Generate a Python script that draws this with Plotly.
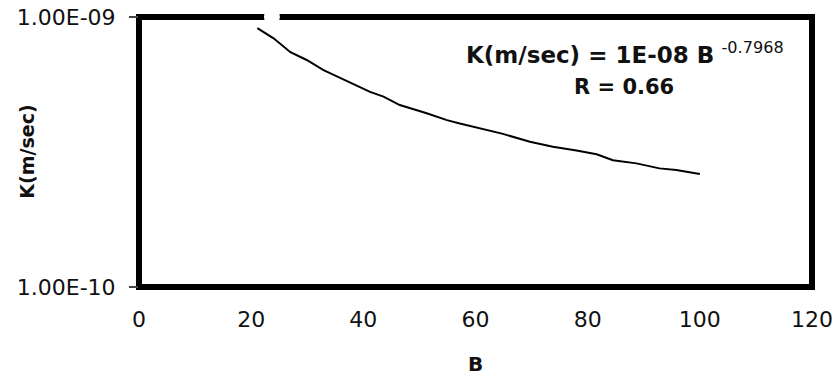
import plotly.graph_objects as go

# Power-law fit of hydraulic conductivity K against B
B_values = [21.1, 24.0, 27.0, 29.9, 32.9, 35.9, 38.8, 41.2, 43.6, 46.5, 51.3, 54.9,
            57.2, 60.8, 64.9, 69.7, 73.8, 78.0, 81.6, 84.5, 88.7, 92.8, 95.8, 100.0]
K_values = [9.10e-10, 8.34e-10, 7.41e-10, 6.93e-10, 6.36e-10, 5.96e-10, 5.60e-10,
            5.28e-10, 5.07e-10, 4.72e-10, 4.40e-10, 4.15e-10, 4.03e-10, 3.87e-10,
            3.69e-10, 3.45e-10, 3.31e-10, 3.20e-10, 3.10e-10, 2.95e-10, 2.87e-10,
            2.75e-10, 2.71e-10, 2.62e-10]

# Single hollow point sitting on the upper bound
point_B = [23.7]
point_K = [1.0e-9]

x_ticks = [0, 20, 40, 60, 80, 100, 120]
y_ticks = [1e-10, 1e-9]
y_tick_text = ["1.00E-10", "1.00E-09"]

fit_label = "<b>K(m/sec) = 1E-08 B</b> <sup>-0.7968</sup>"
r_label = "<b>R = 0.66</b>"

FONT = "DejaVu Sans"
TEXT = "#111111"

fig = go.Figure()
fig.add_trace(go.Scatter(
    x=B_values, y=K_values, mode="lines",
    line=dict(color="black", width=2), hoverinfo="skip",
))
fig.add_trace(go.Scatter(
    x=point_B, y=point_K, mode="markers", cliponaxis=False,
    marker=dict(color="white", size=16, line=dict(width=0)),
))

fig.update_layout(
    width=839, height=379,
    margin=dict(l=138.5, r=26.5, t=17, b=92, autoexpand=False),
    paper_bgcolor="white", plot_bgcolor="white",
    showlegend=False,
    font=dict(family=FONT, color=TEXT),
)

# Heavy frame around the plotting area, centred on its edges
fig.add_shape(
    type="rect", xref="paper", yref="paper", x0=0, x1=1, y0=0, y1=1,
    line=dict(color="black", width=6), fillcolor="rgba(0,0,0,0)", layer="below",
)

fig.update_xaxes(
    range=[0, 120], tickvals=x_ticks,
    showline=False, showgrid=False, zeroline=False, ticks="",
    tickfont=dict(family=FONT, size=22, color=TEXT),
    ticklabelstandoff=17,
)
fig.update_yaxes(
    type="log", range=[-10.00001, -8.99999],
    tickvals=y_ticks, ticktext=y_tick_text,
    showline=False, showgrid=False, zeroline=False,
    ticks="outside", ticklen=9, tickwidth=2, tickcolor="#444444",
    tickfont=dict(family=FONT, size=22, color=TEXT),
    ticklabelstandoff=9,
)

fig.add_annotation(
    text=fit_label, xref="paper", yref="paper", x=0.7218, y=0.8667,
    xanchor="center", yanchor="middle", showarrow=False,
    font=dict(family=FONT, size=23, color=TEXT),
)
fig.add_annotation(
    text=r_label, xref="paper", yref="paper", x=0.7203, y=0.7407,
    xanchor="center", yanchor="middle", showarrow=False,
    font=dict(family=FONT, size=21, color=TEXT),
)
# Axis titles
fig.add_annotation(
    text="<b>B</b>", xref="paper", yref="paper", x=0.5007, y=-0.285,
    xanchor="center", yanchor="middle", showarrow=False,
    font=dict(family=FONT, size=20, color=TEXT),
)
fig.add_annotation(
    text="<b>K(m/sec)</b>", xref="paper", yref="paper", x=-0.1669, y=0.5,
    xanchor="center", yanchor="middle", showarrow=False, textangle=-90,
    font=dict(family=FONT, size=19, color=TEXT),
)

fig.write_html("out.html")
